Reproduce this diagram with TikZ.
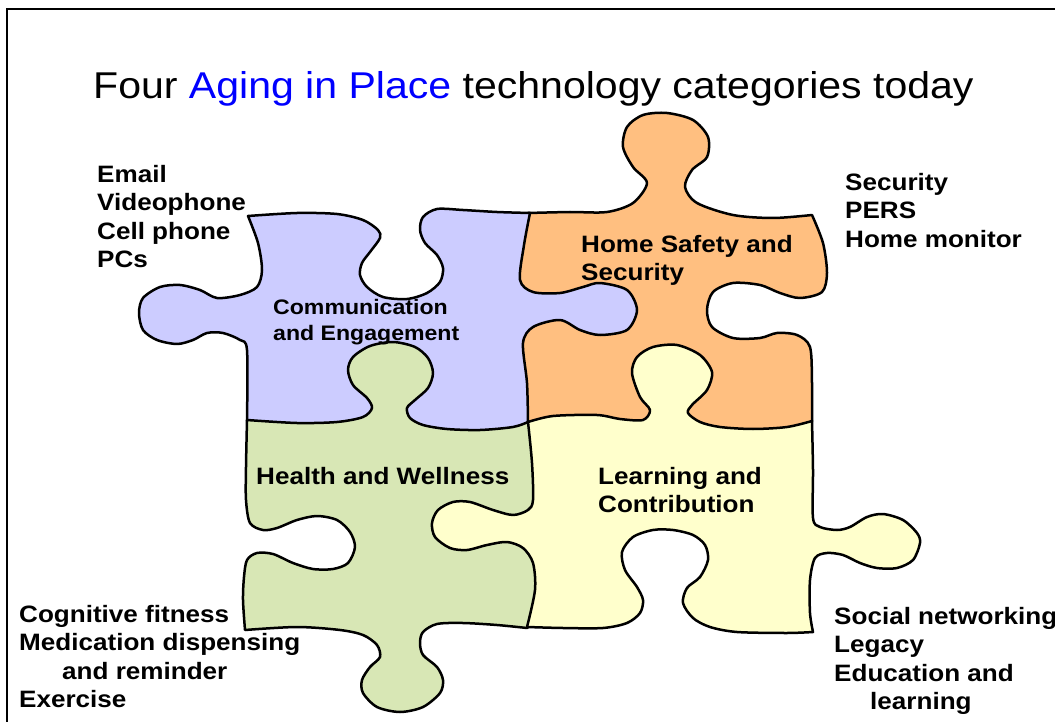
\documentclass[tikz,border=0pt]{standalone}
\usepackage{fontspec}
\setmainfont{Liberation Sans}[FakeStretch=1.1]
\usepackage{xcolor}
\usetikzlibrary{positioning}
\definecolor{commfill}{HTML}{CCCCFF}
\definecolor{homefill}{HTML}{FFBF80}
\definecolor{healthfill}{HTML}{D8E7B5}
\definecolor{learnfill}{HTML}{FFFFCC}
\tikzset{
	piece/.style={draw, line width=2.5pt, line join=round},
	itemlist/.style={font=\fontsize{23.7}{28.5}\selectfont\bfseries, align=left, anchor=north west, inner sep=0pt},
	tag/.style={font=\fontsize{23.7}{28}\selectfont\bfseries, align=left, anchor=north west, inner sep=0pt}
}
\begin{document}
\begin{tikzpicture}[x=1pt, y=-1pt]
	\useasboundingbox (0,0) rectangle (1055,722);
	\draw[line width=2pt] (7,722) -- (7,9) -- (1055,9);

	% home safety (lies under its neighbours)
	\path[piece, fill=homefill]
		plot[smooth] coordinates {(528,213) (570,212) (607,212) (633,203) (647,183) (633,167) (623,147) (627,127) (643,115) (667,113) (693,120) (708,137) (707,157) (692,170) (685,187) (697,203) (733,215) (773,218) (812,215)}
		-- plot[smooth] coordinates {(812,215) (823,243) (827,273) (822,292) (800,298) (780,293) (760,285) (733,283) (713,292) (707,310) (712,327) (733,338) (760,338) (777,333) (797,335) (810,347) (812,383) (812,421)}
		-- (800,434) -- (540,434) -- (528,422) -- (514,400) -- (512,250) -- cycle;

	% communication
	\path[piece, fill=commfill]
		plot[smooth] coordinates {(248,216) (297,213) (337,214) (363,220) (378,230) (380,238) (370,252) (362,263) (360,275) (367,287) (383,297) (407,299) (427,293) (440,282) (443,268) (437,255) (425,243) (420,230) (423,217) (437,209) (463,210) (497,212) (530,213)}
		-- plot[smooth] coordinates {(530,213) (524,245) (520,280) (533,292) (560,293) (583,287) (600,283) (627,290) (637,310) (627,330) (600,335) (580,330) (560,320) (533,327) (523,343) (527,383) (528,422)}
		-- (515,436) -- (262,436) -- (247,420)
		-- plot[smooth] coordinates {(247,420) (247,350) (240,340) (223,333) (207,333) (193,340) (177,344) (157,340) (143,330) (139,313) (143,298) (160,287) (180,285) (200,290) (217,298) (240,295) (257,287) (262,270) (258,243) (248,216)} -- cycle;

	% health
	\path[piece, fill=healthfill]
		plot[smooth] coordinates {(247,420) (297,423) (337,422) (363,417) (372,408) (367,398) (353,385) (348,370) (353,357) (370,346) (393,342) (415,347) (428,358) (433,373) (428,388) (415,400) (407,408) (410,418) (423,425) (447,429) (480,430) (513,427) (528,422)}
		-- (546,440) -- (546,610) -- (527,628)
		-- plot[smooth] coordinates {(527,628) (497,625) (463,623) (437,624) (423,632) (420,643) (423,655) (437,667) (443,680) (440,693) (423,707) (400,712) (377,707) (363,693) (362,680) (370,667) (380,657) (377,645) (363,635) (340,630) (297,627) (245,630)}
		-- plot[smooth] coordinates {(245,630) (243,600) (244,577) (247,560) (257,553) (273,554) (293,563) (313,569) (333,569) (348,563) (355,547) (350,532) (337,520) (317,516) (297,520) (277,528) (263,530) (250,523) (246,500) (246,467) (247,420)} -- cycle;

	% learning
	\path[piece, fill=learnfill]
		plot[smooth] coordinates {(528,422) (553,416) (597,415) (620,419) (643,420) (650,410) (640,397) (632,373) (637,357) (653,347) (677,345) (700,355) (712,372) (707,390) (692,405) (688,413) (700,422) (720,427) (753,429) (787,427) (812,421)}
		-- plot[smooth] coordinates {(812,421) (813,470) (813,518) (820,527) (837,530) (850,527) (867,517) (883,514) (903,520) (917,533) (920,543) (913,560) (897,568) (877,568) (860,563) (843,555) (827,553) (815,558) (810,580) (810,613) (813,632)}
		-- plot[smooth] coordinates {(813,632) (787,633) (737,632) (710,627) (693,618) (683,603) (687,588) (700,577) (708,560) (705,545) (693,535) (673,530) (653,530) (633,537) (622,552) (625,570) (637,587) (643,600) (640,613) (627,623) (603,628) (563,628) (527,627)}
		-- plot[smooth] coordinates {(527,627) (535,590) (533,563) (523,548) (507,542) (487,545) (467,550) (450,548) (435,537) (432,523) (438,510) (453,502) (470,502) (493,510) (513,515) (528,510) (533,500) (532,463) (528,422)} -- cycle;

	\node[anchor=base west, inner sep=0pt, font=\fontsize{37.3}{44}\selectfont] (title) at (93,99) {Four \textcolor{blue}{Aging in Place} technology categories today};

	\node[tag, font=\fontsize{21}{26}\selectfont\bfseries] (comm) at (273,299) {Communication\\and Engagement};
	\node[tag] (home) at (581,235) {Home Safety and\\Security};
	\node[tag] (health) at (256,467) {Health and Wellness};
	\node[tag] (learn) at (598,467) {Learning and\\Contribution};

	\node[itemlist] (commitems) at (97,165) {Email\\Videophone\\Cell phone\\PCs};
	\node[itemlist] (homeitems) at (845,173) {Security\\PERS\\Home monitor};
	\node[itemlist] (healthitems) at (19,605) {Cognitive fitness\\Medication dispensing\\\hspace*{43pt}and reminder\\Exercise};
	\node[itemlist] (learnitems) at (834,607) {Social networking\\Legacy\\Education and\\\hspace*{36pt}learning};
\end{tikzpicture}
\end{document}
